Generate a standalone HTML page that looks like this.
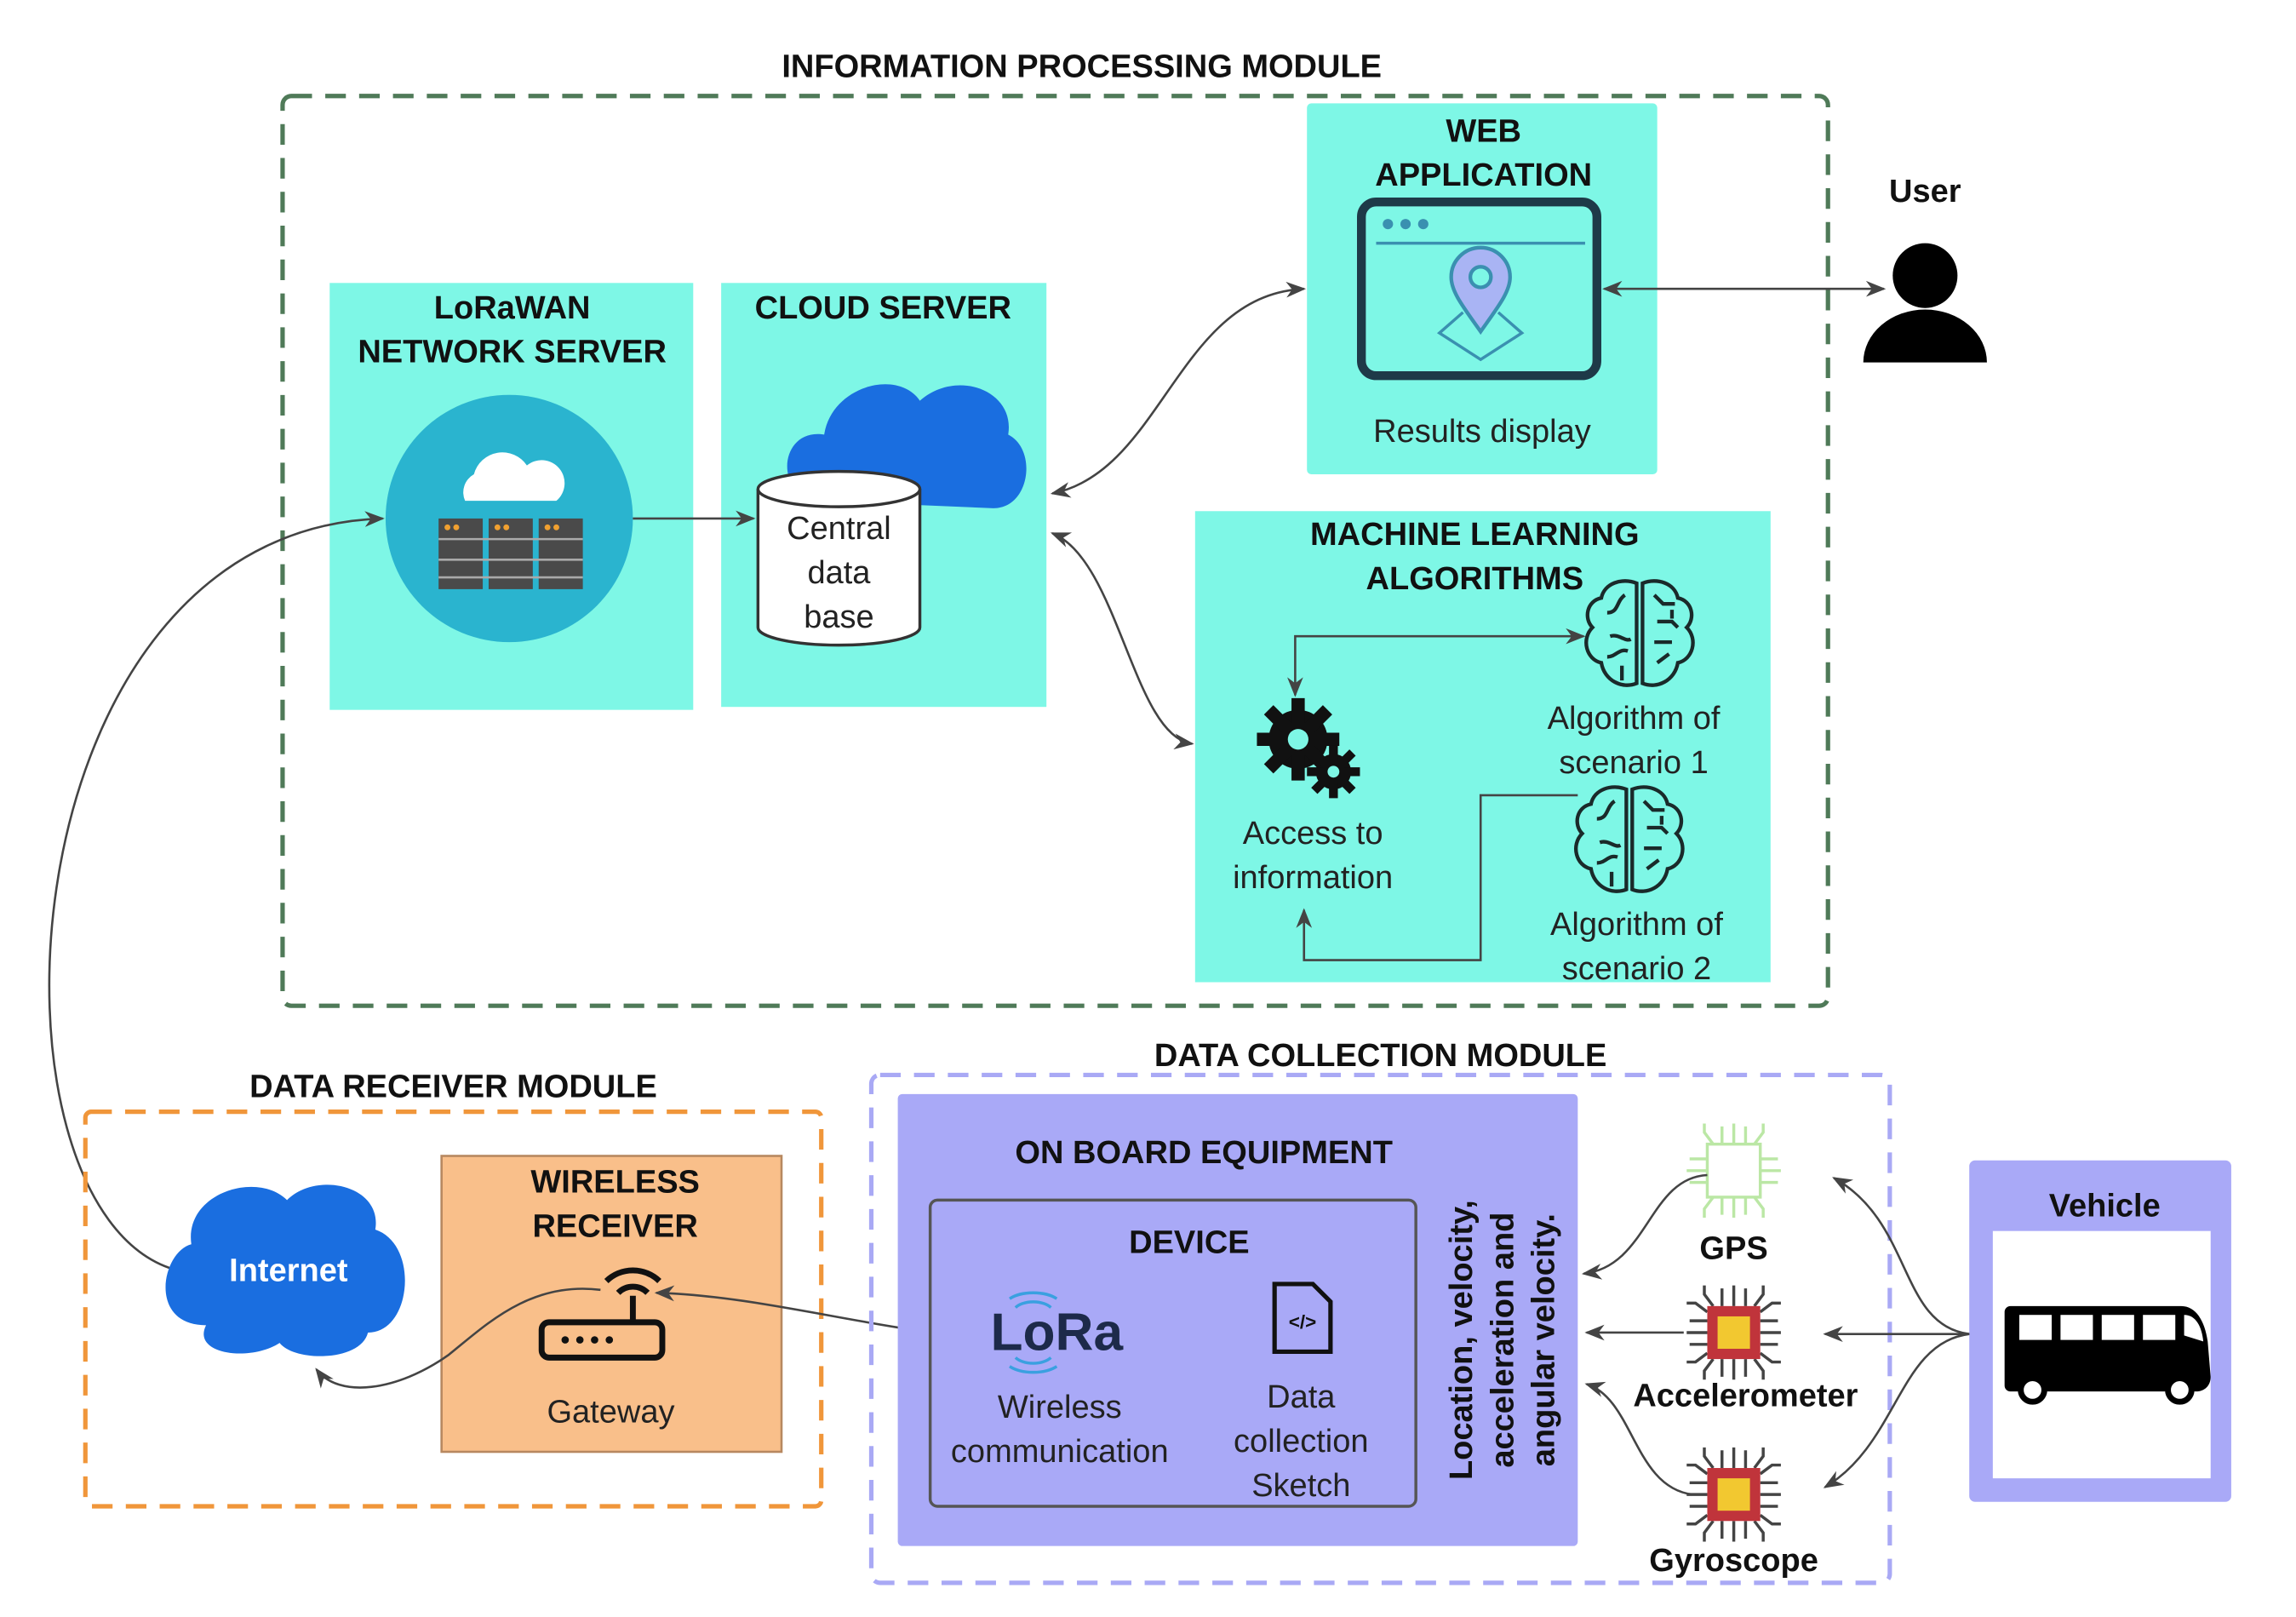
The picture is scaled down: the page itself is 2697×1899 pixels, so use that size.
<!DOCTYPE html>
<html><head><meta charset="utf-8"><style>
html,body{margin:0;padding:0;background:#fff;}
svg{display:block;}
text{font-family:"Liberation Sans",sans-serif;}
.t{font-weight:bold;font-size:22px;fill:#111;text-anchor:middle;}
.n{font-size:22px;fill:#222;text-anchor:middle;}
.ln{fill:none;stroke:#444;stroke-width:1.5;}
</style></head><body>
<svg width="2697" height="1899" viewBox="0 0 1560 1098" xmlns="http://www.w3.org/2000/svg">
<defs>
<marker id="a" viewBox="0 0 10 10" refX="9" refY="5" markerWidth="9" markerHeight="9" orient="auto-start-reverse"><path d="M0,1 L10,5 L0,9 L3,5 z" fill="#444"/></marker>
<g id="chip">
 <g stroke="#444" stroke-width="2" fill="none">
  <path d="M-8,-18 v-12 M0,-18 v-14 M8,-18 v-12 M-14,-18 l-6,-8 v-6 M14,-18 l6,-8 v-6"/>
  <path d="M-8,18 v12 M0,18 v14 M8,18 v12 M-14,18 l-6,8 v6 M14,18 l6,8 v6"/>
  <path d="M-18,-8 h-12 M-18,0 h-14 M-18,8 h-12 M-18,-14 l-8,-6 h-6 M-18,14 l-8,6 h-6"/>
  <path d="M18,-8 h12 M18,0 h14 M18,8 h12 M18,-14 l8,-6 h6 M18,14 l8,6 h6"/>
 </g>
 <rect x="-18" y="-18" width="36" height="36" fill="#c0343b"/>
 <rect x="-11" y="-11" width="22" height="22" fill="#f2c830"/>
</g>
<g id="brain" fill="none" stroke="#1a2a2a" stroke-width="2.5">
 <path d="M0,-36 C-10,-40 -22,-36 -24,-26 C-34,-24 -36,-12 -30,-6 C-38,2 -34,16 -24,18 C-22,30 -10,36 0,32 Z"/>
 <path d="M4,-36 C14,-40 26,-36 28,-26 C38,-24 40,-12 34,-6 C42,2 38,16 28,18 C26,30 14,36 4,32 Z"/>
 <path d="M-8,-28 c-6,4 -4,12 -12,12 M-18,0 c6,-2 10,4 14,2 M-20,14 c6,0 8,-6 14,-4 M-10,20 v10"/>
 <path d="M12,-28 l6,6 h8 M14,-10 h10 l4,4 M12,4 h12 M14,18 l8,-6 M24,-18 v6"/>
</g>
</defs>

<text x="735" y="52" class="t">INFORMATION PROCESSING MODULE</text>
<rect x="192" y="65" width="1050" height="618" rx="6" fill="none" stroke="#4f7a58" stroke-width="3" stroke-dasharray="14 9"/>

<rect x="224" y="192" width="247" height="290" fill="#7ef7e6"/>
<text x="348" y="216" class="t">LoRaWAN</text>
<text x="348" y="246" class="t">NETWORK SERVER</text>
<circle cx="346" cy="352" r="84" fill="#2ab4cf"/>
<path d="M316,340 a14,14 0 0 1 6,-18 a20,20 0 0 1 36,-6 a14,14 0 0 1 20,24 z" fill="#fff"/>
<g fill="#4a4a4a"><rect x="298" y="352" width="30" height="48"/><rect x="332" y="352" width="30" height="48"/><rect x="366" y="352" width="30" height="48"/></g>
<g stroke="#aaa" stroke-width="1.5"><path d="M298,366 h98 M298,380 h98 M298,392 h98"/></g>
<g fill="#f0a030"><circle cx="304" cy="358" r="2"/><circle cx="310" cy="358" r="2"/><circle cx="338" cy="358" r="2"/><circle cx="344" cy="358" r="2"/><circle cx="372" cy="358" r="2"/><circle cx="378" cy="358" r="2"/></g>

<rect x="490" y="192" width="221" height="288" fill="#7ef7e6"/>
<text x="600" y="216" class="t">CLOUD SERVER</text>
<path d="M555,340 C525,335 530,290 560,295 C565,262 610,250 625,272 C650,250 690,265 685,295 C705,305 700,345 675,345 Z" fill="#1a6ee0"/>
<path d="M515,332 v94 a55,12 0 0 0 110,0 v-94" fill="#fff" stroke="#333" stroke-width="2"/>
<ellipse cx="570" cy="332" rx="55" ry="12" fill="#fff" stroke="#333" stroke-width="2"/>
<text x="570" y="366" class="n">Central</text>
<text x="570" y="396" class="n">data</text>
<text x="570" y="426" class="n">base</text>

<rect x="888" y="70" width="238" height="252" rx="3" fill="#7ef7e6"/>
<text x="1008" y="96" class="t">WEB</text>
<text x="1008" y="126" class="t">APPLICATION</text>
<rect x="925" y="137" width="160" height="118" rx="10" fill="#7ef7e6" stroke="#1e3a48" stroke-width="6"/>
<path d="M935,165 h142" stroke="#3a90b0" stroke-width="2"/>
<g fill="#3a90b0"><circle cx="943" cy="152" r="3.5"/><circle cx="955" cy="152" r="3.5"/><circle cx="967" cy="152" r="3.5"/></g>
<path d="M1006,225 C994,208 986,198 986,188 a20,20 0 0 1 40,0 C1026,198 1018,208 1006,225 z" fill="#a9b4f4" stroke="#3a90b0" stroke-width="2.5"/>
<circle cx="1006" cy="188" r="7" fill="#7ef7e6" stroke="#3a90b0" stroke-width="2.5"/>
<path d="M994,212 l-16,14 l28,18 l28,-18 l-16,-14" fill="none" stroke="#3a90b0" stroke-width="2"/>
<text x="1007" y="300" class="n">Results display</text>

<text x="1308" y="137" class="t">User</text>
<circle cx="1308" cy="187" r="22" fill="#000"/>
<path d="M1266,246 a42,36 0 0 1 84,0 z" fill="#000"/>

<rect x="812" y="347" width="391" height="320" fill="#7ef7e6"/>
<text x="1002" y="370" class="t">MACHINE LEARNING</text>
<text x="1002" y="400" class="t">ALGORITHMS</text>
<g fill="#111">
 <circle cx="882" cy="502" r="20"/><g stroke="#111" stroke-width="9"><path d="M882,474 v56 M854,502 h56 M862,482 l40,40 M902,482 l-40,40"/></g>
 <circle cx="882" cy="502" r="7" fill="#7ef7e6"/>
 <circle cx="906" cy="524" r="12"/><g stroke="#111" stroke-width="6"><path d="M906,506 v36 M888,524 h36 M893,511 l26,26 M919,511 l-26,26"/></g>
 <circle cx="906" cy="524" r="4" fill="#7ef7e6"/>
</g>
<text x="892" y="573" class="n">Access to</text>
<text x="892" y="603" class="n">information</text>
<use href="#brain" x="1112" y="432"/>
<use href="#brain" x="1105" y="572"/>
<text x="1110" y="495" class="n">Algorithm of</text>
<text x="1110" y="525" class="n">scenario 1</text>
<text x="1112" y="635" class="n">Algorithm of</text>
<text x="1112" y="665" class="n">scenario 2</text>
<path class="ln" d="M1076,432 H880 V472" marker-end="url(#a)" marker-start="url(#a)"/>
<path class="ln" d="M1072,540 H1006 V652 H886 V618" marker-end="url(#a)"/>

<path class="ln" d="M430,352 H512" marker-end="url(#a)"/>
<path class="ln" d="M715,335 C790,320 800,200 886,196" marker-end="url(#a)" marker-start="url(#a)"/>
<path class="ln" d="M715,362 C760,380 770,500 810,505" marker-end="url(#a)" marker-start="url(#a)"/>
<path class="ln" d="M1090,196 H1280" marker-end="url(#a)" marker-start="url(#a)"/>
<path class="ln" d="M118,862 C-20,820 0,360 260,352" marker-end="url(#a)"/>

<text x="308" y="745" class="t">DATA RECEIVER MODULE</text>
<rect x="58" y="755" width="500" height="268" rx="4" fill="none" stroke="#f0963a" stroke-width="3" stroke-dasharray="14 9"/>
<rect x="300" y="785" width="231" height="201" fill="#f9bf8a" stroke="#b78860" stroke-width="1.5"/>
<text x="418" y="810" class="t">WIRELESS</text>
<text x="418" y="840" class="t">RECEIVER</text>
<rect x="368" y="898" width="82" height="24" rx="5" fill="none" stroke="#111" stroke-width="4"/>
<g fill="#111"><circle cx="384" cy="910" r="2.5"/><circle cx="394" cy="910" r="2.5"/><circle cx="404" cy="910" r="2.5"/><circle cx="414" cy="910" r="2.5"/></g>
<path d="M430,898 v-18" stroke="#111" stroke-width="4"/>
<path d="M420,878 a14,14 0 0 1 20,0 M412,870 a26,26 0 0 1 36,0" fill="none" stroke="#111" stroke-width="4"/>
<text x="415" y="966" class="n">Gateway</text>
<path d="M140,900 C100,900 110,850 130,845 C125,810 175,795 195,815 C215,795 260,805 255,835 C285,845 280,905 250,905 C245,925 200,925 190,912 C170,925 130,920 140,900 Z" fill="#1a6ee0"/>
<text x="196" y="870" style="font-weight:bold;font-size:22px;fill:#fff;text-anchor:middle">Internet</text>
<path class="ln" d="M408,876 C360,870 330,900 305,920 C270,945 230,950 215,930" marker-end="url(#a)"/>
<path class="ln" d="M668,908 C600,905 520,880 446,878" marker-end="url(#a)"/>

<text x="938" y="724" class="t">DATA COLLECTION MODULE</text>
<rect x="592" y="730" width="692" height="345" rx="6" fill="none" stroke="#a9a9f5" stroke-width="3" stroke-dasharray="14 9"/>
<rect x="610" y="743" width="462" height="307" rx="3" fill="#a9a9f7"/>
<text x="818" y="790" class="t">ON BOARD EQUIPMENT</text>
<rect x="632" y="815" width="330" height="208" rx="5" fill="none" stroke="#555" stroke-width="2"/>
<text x="808" y="851" class="t">DEVICE</text>
<text x="718" y="917" style="font-weight:bold;font-size:36px;fill:#1d2a4a;text-anchor:middle">LoRa</text>
<g fill="none" stroke="#3aa0e0" stroke-width="2"><path d="M690,888 a14,8 0 0 1 24,0 M686,882 a20,10 0 0 1 32,0 M690,922 a14,8 0 0 0 24,0 M686,928 a20,10 0 0 0 32,0"/></g>
<text x="720" y="963" class="n">Wireless</text>
<text x="720" y="993" class="n">communication</text>
<path d="M866,872 h26 l12,12 v34 h-38 z" fill="none" stroke="#111" stroke-width="3"/>
<text x="885" y="902" style="font-size:13px;font-weight:bold;fill:#111;text-anchor:middle">&lt;/&gt;</text>
<text x="884" y="956" class="n">Data</text>
<text x="884" y="986" class="n">collection</text>
<text x="884" y="1016" class="n">Sketch</text>
<g transform="translate(1022,910) rotate(-90)">
<text x="0" y="-22" class="t">Location, velocity,</text>
<text x="0" y="6" class="t">acceleration and</text>
<text x="0" y="34" class="t">angular velocity.</text>
</g>

<g transform="translate(1178,795)" opacity="0.6">
 <g stroke="#8fd86a" stroke-width="2" fill="none">
  <path d="M-8,-18 v-12 M0,-18 v-14 M8,-18 v-12 M-14,-18 l-6,-8 v-6 M14,-18 l6,-8 v-6 M-8,18 v12 M0,18 v14 M8,18 v12 M-14,18 l-6,8 v6 M14,18 l6,8 v6 M-18,-8 h-12 M-18,0 h-14 M-18,8 h-12 M18,-8 h12 M18,0 h14 M18,8 h12"/>
  <rect x="-18" y="-18" width="36" height="36"/>
 </g>
</g>
<text x="1178" y="855" class="t">GPS</text>
<use href="#chip" x="1178" y="905"/>
<text x="1186" y="955" class="t">Accelerometer</text>
<use href="#chip" x="1178" y="1015"/>
<text x="1178" y="1067" class="t">Gyroscope</text>
<path class="ln" d="M1160,798 C1120,800 1120,860 1076,865" marker-end="url(#a)"/>
<path class="ln" d="M1144,905 H1078" marker-end="url(#a)"/>
<path class="ln" d="M1150,1015 C1110,1010 1110,950 1078,940" marker-end="url(#a)"/>

<rect x="1338" y="788" width="178" height="232" rx="4" fill="#a9a9f7"/>
<text x="1430" y="826" class="t">Vehicle</text>
<rect x="1354" y="836" width="148" height="168" fill="#fff"/>
<path d="M1364,887 h118 c10,0 16,10 18,24 l2,24 c0,6 -4,10 -10,10 h-126 a4,4 0 0 1 -4,-4 v-50 a4,4 0 0 1 4,-4 z" fill="#000"/>
<g fill="#fff"><rect x="1372" y="893" width="22" height="17"/><rect x="1400" y="893" width="22" height="17"/><rect x="1428" y="893" width="22" height="17"/><rect x="1456" y="893" width="22" height="17"/><path d="M1484,893 c8,0 12,8 13,18 l-13,-4 z"/></g>
<circle cx="1381" cy="944" r="8" fill="#fff" stroke="#000" stroke-width="4"/>
<circle cx="1481" cy="944" r="8" fill="#fff" stroke="#000" stroke-width="4"/>
<path class="ln" d="M1338,906 C1290,900 1300,830 1246,800" marker-end="url(#a)"/>
<path class="ln" d="M1338,906 H1240" marker-end="url(#a)"/>
<path class="ln" d="M1338,906 C1290,912 1290,980 1240,1010" marker-end="url(#a)"/>
</svg>
</body></html>
